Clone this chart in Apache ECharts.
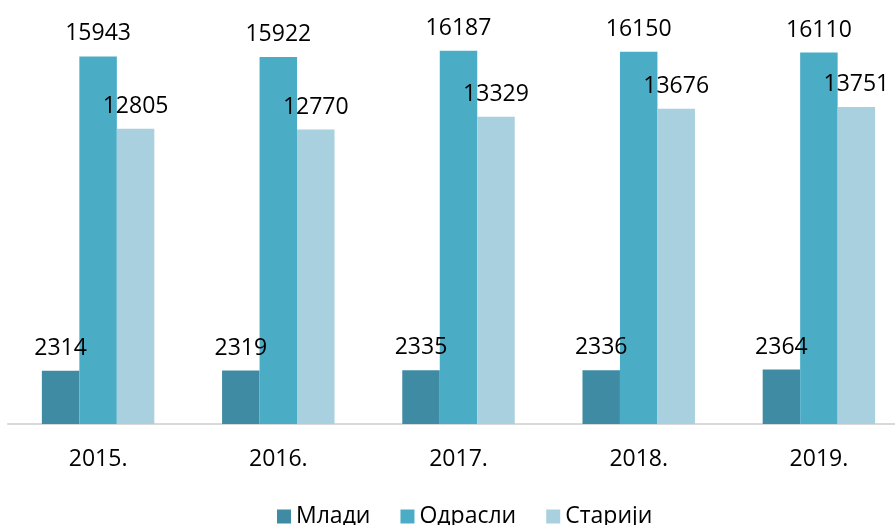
<!DOCTYPE html>
<html>
<head>
<meta charset="utf-8">
<script src="https://cdn.jsdelivr.net/npm/echarts@6/dist/echarts.min.js"></script>
<style>
  html, body { margin: 0; padding: 0; background: #fff; overflow: hidden; }
  /* 원본 차트는 오른쪽이 잘려 있으므로 캔버스를 조금 넓게 잡음 */
  #chart { width: 920px; height: 525px; }
</style>
</head>
<body>
<div id="chart"></div>
<script>
// 데이터
const years = ['2015.', '2016.', '2017.', '2018.', '2019.'];
const mladi = [2314, 2319, 2335, 2336, 2364];
const odrasli = [15943, 15922, 16187, 16150, 16110];
const stariji = [12805, 12770, 13329, 13676, 13751];

const seriesNames = ['Млади', 'Одрасли', 'Старији'];
const seriesColors = ['#3e8ba3', '#4bacc6', '#a8d0de'];

const fontFamily = '"Open Sans", "Noto Sans", sans-serif';

const labelStyle = {
  show: true,
  position: 'top',
  distance: 11,
  color: '#000',
  fontSize: 23,
  fontFamily
};

const chart = echarts.init(document.getElementById('chart'));

chart.setOption({
  animation: false,
  backgroundColor: '#fff',
  grid: { left: 8, width: 901, top: 9, bottom: 101, containLabel: false },
  legend: {
    left: 272,
    top: 500,
    itemWidth: 14,
    itemHeight: 14,
    itemGap: 30,
    icon: 'rect',
    textStyle: { color: '#000', fontSize: 23, fontFamily },
    data: seriesNames
  },
  xAxis: {
    type: 'category',
    data: years,
    axisLine: { show: true, lineStyle: { color: '#d9d9d9', width: 2 } },
    axisTick: { show: false },
    axisLabel: { color: '#000', fontSize: 23, fontFamily, margin: 24 }
  },
  yAxis: {
    type: 'value',
    min: 0,
    max: 18000,
    show: false,
    splitLine: { show: false }
  },
  series: [
    { name: seriesNames[0], type: 'bar', data: mladi, barGap: '0%', barCategoryGap: '37.6%', itemStyle: { color: seriesColors[0] }, label: labelStyle },
    { name: seriesNames[1], type: 'bar', data: odrasli, itemStyle: { color: seriesColors[1] }, label: labelStyle },
    { name: seriesNames[2], type: 'bar', data: stariji, itemStyle: { color: seriesColors[2] }, label: labelStyle }
  ]
});
</script>
</body>
</html>
